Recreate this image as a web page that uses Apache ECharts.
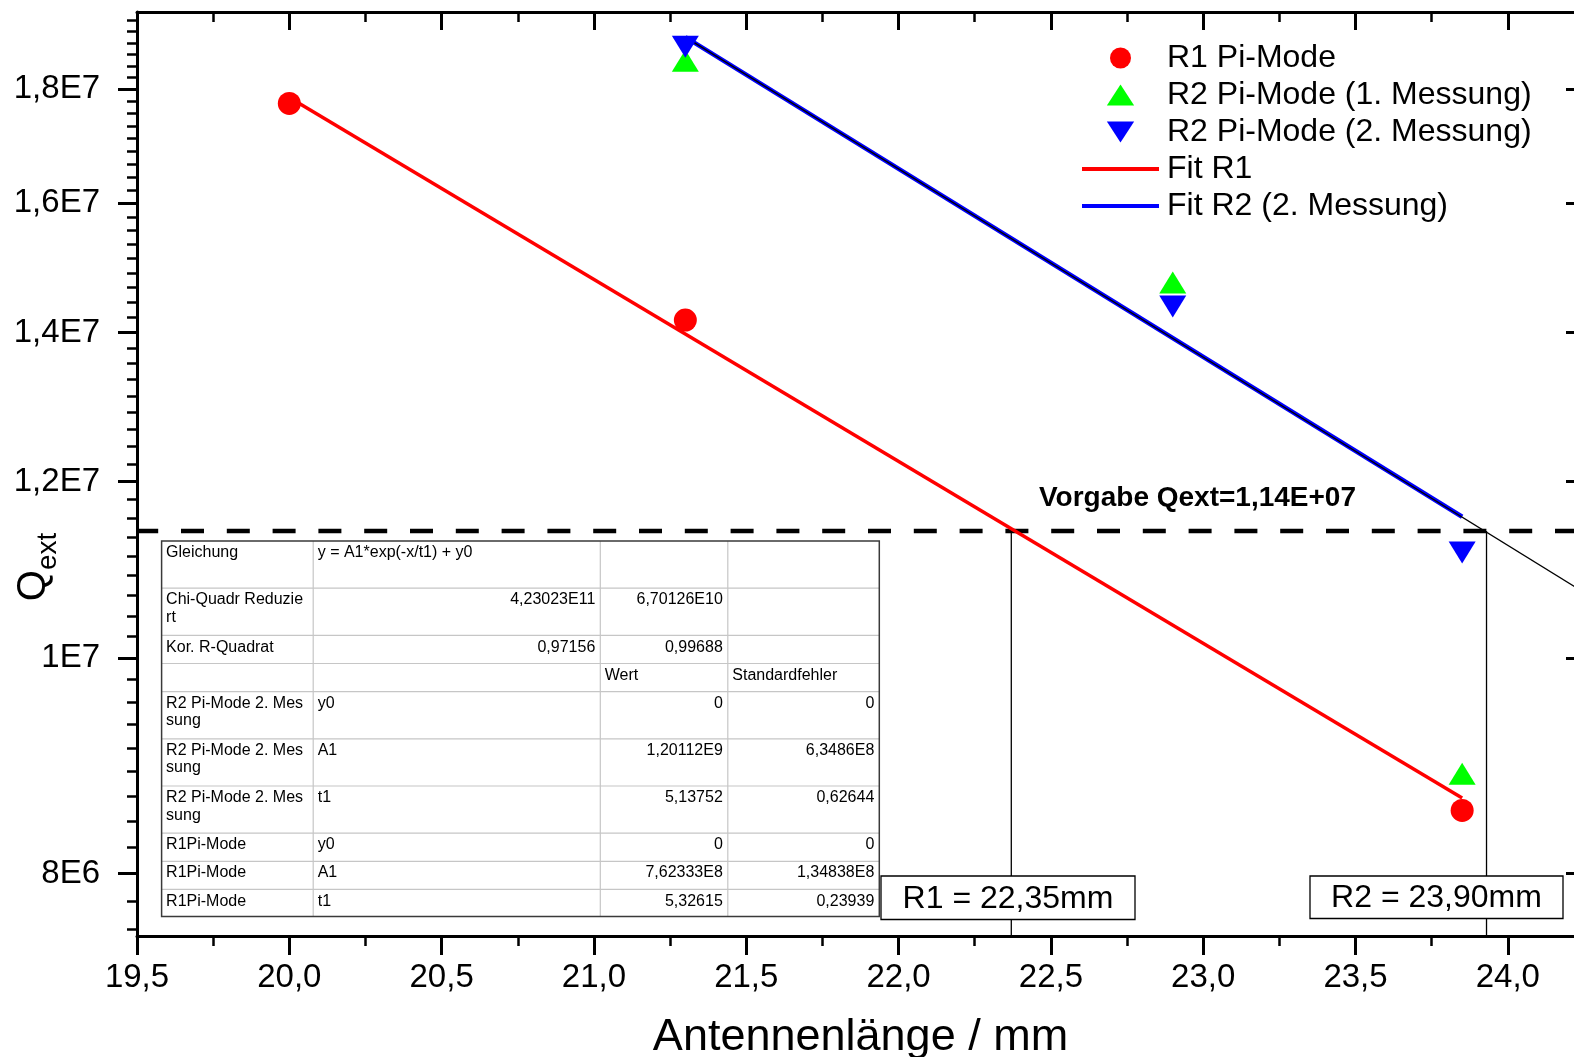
<!DOCTYPE html>
<html><head><meta charset="utf-8">
<script src="https://cdn.jsdelivr.net/npm/echarts@6/dist/echarts.min.js"></script>
<style>html,body{margin:0;padding:0;background:#fff}#c{width:1574px;height:1057px}</style>
</head><body><div id="c"></div>
<script>
// ---- data ----
const r1X = [20.0, 21.3, 23.85];
const r1Y = [1.774e7, 1.418e7, 8.54e6];
const r2aX = [21.3, 22.9, 23.85];
const r2aY = [1.854e7, 1.474e7, 8.87e6];
const r2bX = [21.3, 22.9, 23.85];
const r2bY = [1.881e7, 1.438e7, 1.115e7];
const fitR1X = [20.0, 23.85];
const fitR1Y = [1.785e7, 8.65e6];
const fitR2X = [21.3, 23.85];
const fitR2Y = [1.90e7, 1.157e7];
const extR2X = [21.3, 24.25];
const extR2Y = [1.90e7, 1.07e7];
const targetQ = 1.14e7;
const crossX = [22.37, 23.93];
const crossLabels = ['R1 = 22,35mm', 'R2 = 23,90mm'];
const targetLabel = 'Vorgabe Qext=1,14E+07';
const seriesNames = ['R1 Pi-Mode', 'R2 Pi-Mode (1. Messung)', 'R2 Pi-Mode (2. Messung)', 'Fit R1', 'Fit R2 (2. Messung)'];
const xMajorTicks = [19.5, 20.0, 20.5, 21.0, 21.5, 22.0, 22.5, 23.0, 23.5, 24.0];
const xMinorTicks = [19.75, 20.25, 20.75, 21.25, 21.75, 22.25, 22.75, 23.25, 23.75, 24.25];
const yMajorTicks = [8e6, 1e7, 1.2e7, 1.4e7, 1.6e7, 1.8e7];
const yMajorLabels = ['8E6', '1E7', '1,2E7', '1,4E7', '1,6E7', '1,8E7'];
const xTitle = 'Antennenlänge / mm';
const tableRows = [
  ['Gleichung', 'y = A1*exp(-x/t1) + y0', '', ''],
  ['Chi-Quadr Reduzie\nrt', '4,23023E11', '6,70126E10', ''],
  ['Kor. R-Quadrat', '0,97156', '0,99688', ''],
  ['', '', 'Wert', 'Standardfehler'],
  ['R2 Pi-Mode 2. Mes\nsung', 'y0', '0', '0'],
  ['R2 Pi-Mode 2. Mes\nsung', 'A1', '1,20112E9', '6,3486E8'],
  ['R2 Pi-Mode 2. Mes\nsung', 't1', '5,13752', '0,62644'],
  ['R1Pi-Mode', 'y0', '0', '0'],
  ['R1Pi-Mode', 'A1', '7,62333E8', '1,34838E8'],
  ['R1Pi-Mode', 't1', '5,32615', '0,23939']
];

// ---- layout ----
const X_MIN = 19.5, X_MAX = 24.25, Y_MIN = 7.5e6, Y_MAX = 1.95e7;
const FONT = '"Liberation Sans", Arial, sans-serif';
const L = Math.log10;
// minor y ticks: 8 evenly spaced (linear) between majors
const yStep = yMajorTicks[1] - yMajorTicks[0];
const yMinorTicks = [];
for (let v = yMajorTicks[0] - yStep; v < Y_MAX; v += yStep) {
  for (let k = 1; k <= 8; k++) {
    const m = v + k * yStep / 9;
    if (m > Y_MIN && m < Y_MAX) yMinorTicks.push(m);
  }
}
const pts = (xs, ys) => xs.map((x, i) => [x, L(ys[i])]);
const fmtX = v => Number(v).toFixed(1).replace('.', ',');
const fmtY = v => {
  for (let i = 0; i < yMajorTicks.length; i++) if (Math.abs(L(yMajorTicks[i]) - v) < 1e-6) return yMajorLabels[i];
  return '';
};

const upTri = 'path://M13,0L26,20L0,20Z';
const downTri = 'path://M0,0L26,0L13,20Z';
const lineIcon = 'path://M0,0L77,0L77,4L0,4Z';

function xAx(pos, vals, len, inside, showLine, labels) {
  return {
    type: 'value', position: pos, min: X_MIN, max: X_MAX,
    axisLine: { show: showLine, onZero: false, lineStyle: { color: '#000', width: 3 } },
    axisTick: { show: true, inside: inside, length: len, customValues: vals, lineStyle: { color: '#000', width: len > 12 ? 3 : 2.5 } },
    axisLabel: labels ? { show: true, customValues: vals, formatter: fmtX, fontSize: 33, color: '#000', fontFamily: FONT, margin: 25 } : { show: false },
    splitLine: { show: false }
  };
}
function yAx(pos, vals, len, inside, showLine, labels) {
  return {
    type: 'value', position: pos, min: L(Y_MIN), max: L(Y_MAX),
    axisLine: { show: showLine, onZero: false, lineStyle: { color: '#000', width: 3 } },
    axisTick: { show: true, inside: inside, length: len, customValues: vals.map(L), lineStyle: { color: '#000', width: len > 12 ? 3 : 2.5 } },
    axisLabel: labels ? { show: true, customValues: vals.map(L), formatter: fmtY, fontSize: 33, color: '#000', fontFamily: FONT, margin: 37 } : { show: false },
    splitLine: { show: false }
  };
}

const xAxes = [
  xAx('bottom', xMajorTicks, 19, false, true, true),
  xAx('bottom', xMinorTicks, 10, false, false, false),
  xAx('top', xMajorTicks, 18, true, true, false),
  xAx('top', xMinorTicks, 10, true, false, false)
];
xAxes[0].name = xTitle;
xAxes[0].nameLocation = 'middle';
xAxes[0].nameGap = 79;
xAxes[0].nameTextStyle = { fontSize: 45, color: '#000', fontFamily: FONT };

const yAxes = [
  yAx('left', yMajorTicks, 19, false, true, true),
  yAx('left', yMinorTicks, 10, false, false, false),
  yAx('right', yMajorTicks, 18, true, true, false),
  yAx('right', yMinorTicks, 10, true, false, false)
];

// ---- graphic: table, boxes, texts ----
const colEdges = [161.6, 313.2, 600.3, 727.8, 879.3];
const rowEdges = [541, 588.2, 635.4, 663.5, 691.6, 738.8, 786, 833.2, 861.3, 889.4, 916.5];
const graphics = [];
const tL = colEdges[0], tR = colEdges[colEdges.length - 1], tT = rowEdges[0], tB = rowEdges[rowEdges.length - 1];
graphics.push({ type: 'rect', z: 100, shape: { x: tL, y: tT, width: tR - tL, height: tB - tT }, style: { fill: '#fff', stroke: 'none' } });
for (let i = 1; i < colEdges.length - 1; i++)
  graphics.push({ type: 'line', z: 101, shape: { x1: colEdges[i], y1: tT, x2: colEdges[i], y2: tB }, style: { stroke: '#c6c6c6', lineWidth: 1.2 } });
for (let j = 1; j < rowEdges.length - 1; j++)
  graphics.push({ type: 'line', z: 101, shape: { x1: tL, y1: rowEdges[j], x2: tR, y2: rowEdges[j] }, style: { stroke: '#c6c6c6', lineWidth: 1.2 } });
graphics.push({ type: 'rect', z: 102, shape: { x: tL, y: tT, width: tR - tL, height: tB - tT }, style: { fill: 'none', stroke: '#3a3a3a', lineWidth: 1.5 } });
const isNum = s => /^[0-9,E+\-]+$/.test(s);
tableRows.forEach((row, j) => {
  row.forEach((cell, i) => {
    if (!cell) return;
    const right = isNum(cell);
    graphics.push({
      type: 'text', z: 103,
      x: right ? colEdges[i + 1] - 5 : colEdges[i] + 4.5,
      y: rowEdges[j] + 3,
      style: { text: cell, fill: '#000', font: '16px ' + FONT, align: right ? 'right' : 'left', verticalAlign: 'top', lineHeight: 17.5 }
    });
  });
});
const boxes = [[881, 876, 254, 43.5], [1310, 876, 253, 42.5]];
boxes.forEach((b, i) => {
  graphics.push({ type: 'rect', z: 100, shape: { x: b[0], y: b[1], width: b[2], height: b[3] }, style: { fill: '#fff', stroke: '#000', lineWidth: 1.3 } });
  graphics.push({ type: 'text', z: 101, x: b[0] + b[2] / 2, y: b[1] + b[3] / 2 + 1, style: { text: crossLabels[i], fill: '#000', font: '32px ' + FONT, align: 'center', verticalAlign: 'middle' } });
});
graphics.push({ type: 'text', z: 101, x: 1039, y: 498, style: { text: targetLabel, fill: '#000', font: 'bold 28px ' + FONT, align: 'left', verticalAlign: 'middle' } });
graphics.push({
  type: 'text', z: 101, x: 38, y: 567, rotation: Math.PI / 2,
  style: {
    text: '{q|Q}{s|ext}', align: 'center', verticalAlign: 'middle', fill: '#000',
    rich: {
      q: { fontSize: 40, lineHeight: 40, verticalAlign: 'top', fontFamily: FONT, fill: '#000' },
      s: { fontSize: 28, padding: [20, 0, 0, 0], verticalAlign: 'bottom', fontFamily: FONT, fill: '#000' }
    }
  }
});

const lineSeries = (name, xs, ys, color, width, z, dash) => ({
  name, type: 'line', data: pts(xs, ys), symbol: 'none', z: z, silent: true,
  color: color, lineStyle: { color: color, width: width, type: dash || 'solid', dashOffset: dash ? 1.8 : 0 }
});
const scatterSeries = (name, xs, ys, symbol, size, color, z) => ({
  name, type: 'scatter', data: pts(xs, ys), symbol: symbol, symbolSize: size, color: color,
  itemStyle: { color: color, opacity: 1 }, z: z
});

const option = {
  animation: false,
  backgroundColor: '#fff',
  grid: { left: 137, top: 12, width: 1447, height: 924, containLabel: false, outerBoundsMode: 'none' },
  xAxis: xAxes,
  yAxis: yAxes,
  legend: {
    orient: 'vertical', left: 1082, top: 42, padding: 0,
    itemWidth: 77, itemHeight: 21, itemGap: 5,
    textStyle: { fontSize: 32, lineHeight: 30, color: '#000', fontFamily: FONT, padding: [0, 0, 0, 3] },
    data: [
      { name: seriesNames[0], icon: 'circle' },
      { name: seriesNames[1], icon: upTri },
      { name: seriesNames[2], icon: downTri },
      { name: seriesNames[3], icon: lineIcon },
      { name: seriesNames[4], icon: lineIcon }
    ]
  },
  graphic: { elements: graphics },
  series: [
    lineSeries('target', [X_MIN, X_MAX], [targetQ, targetQ], '#000', 4.5, 3, [23, 22.8]),
    lineSeries('crossR1', [crossX[0], crossX[0]], [targetQ, Y_MIN], '#000', 1.3, 3),
    lineSeries('crossR2', [crossX[1], crossX[1]], [targetQ, Y_MIN], '#000', 1.3, 3),
    lineSeries(seriesNames[3], fitR1X, fitR1Y, '#ff0000', 3.5, 4),
    lineSeries(seriesNames[4], fitR2X, fitR2Y, '#0000ff', 4.5, 4),
    lineSeries('extR2', extR2X, extR2Y, '#000', 1.3, 5),
    scatterSeries(seriesNames[0], r1X, r1Y, 'circle', 23, '#ff0000', 6),
    scatterSeries(seriesNames[1], r2aX, r2aY, upTri, [27, 22], '#00ff00', 6),
    scatterSeries(seriesNames[2], r2bX, r2bY, downTri, [27, 22], '#0000ff', 7)
  ]
};
const chart = echarts.init(document.getElementById('c'), null, { renderer: 'canvas' });
chart.setOption(option);
</script>
</body></html>
